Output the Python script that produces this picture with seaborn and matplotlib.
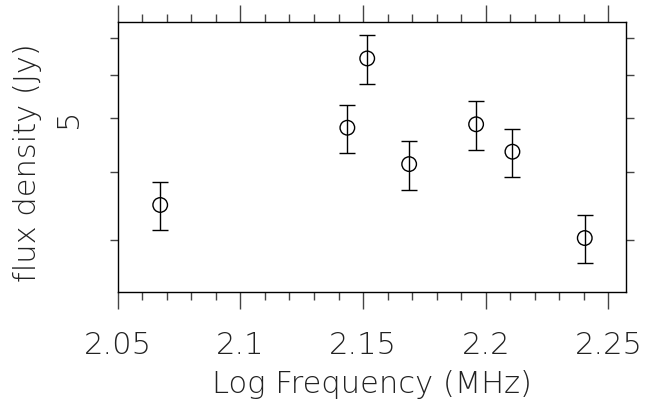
import matplotlib
matplotlib.use("Agg")
import matplotlib.pyplot as plt
from matplotlib.ticker import FixedLocator, MultipleLocator, NullFormatter
import seaborn as sns
import pandas as pd

# Log frequency (MHz) and flux density (Jy) with 1-sigma errors
log_freq = [2.0673, 2.1436, 2.1517, 2.1688, 2.1961, 2.2109, 2.2404]
flux = [3.48, 4.81, 6.43, 4.13, 4.88, 4.35, 3.03]
flux_err = [0.35, 0.48, 0.65, 0.42, 0.50, 0.44, 0.30]

x_ticks = [2.05, 2.1, 2.15, 2.2, 2.25]
x_tick_labels = ["2.05", "2.1", "2.15", "2.2", "2.25"]
y_ticks = [3, 4, 5, 6, 7]
y_tick_labels = ["", "", "5", "", ""]

df = pd.DataFrame({"logf": log_freq, "flux": flux, "err": flux_err})

sns.set_theme(style="ticks")
plt.rcParams["font.family"] = ["DejaVu Sans"]
plt.rcParams["font.weight"] = 200

TEXT = "#222222"
FS = 22

fig = plt.figure(figsize=(6.45, 4.04), dpi=100)
ax = fig.add_axes([0.1826, 0.278, 0.9705 - 0.1826, 0.9455 - 0.278])

ax.errorbar(df["logf"], df["flux"], yerr=df["err"], fmt="none",
            ecolor="black", elinewidth=1.0, capsize=5.8, capthick=1.0)
sns.scatterplot(data=df, x="logf", y="flux", ax=ax, marker="o", s=110,
                facecolor="none", edgecolor="black", linewidth=1.0, zorder=3)

ax.set_yscale("log")
ax.set_xlim(2.05, 2.2572)
ax.set_ylim(2.42, 7.49)

ax.xaxis.set_major_locator(FixedLocator(x_ticks))
ax.set_xticklabels(x_tick_labels, fontweight=200)
ax.xaxis.set_minor_locator(MultipleLocator(0.01))
ax.yaxis.set_major_locator(FixedLocator(y_ticks))
ax.set_yticklabels(y_tick_labels, rotation=90, va="center", fontweight=200)
ax.yaxis.set_minor_formatter(NullFormatter())
ax.yaxis.set_minor_locator(FixedLocator([]))

for side in ["top", "right", "bottom", "left"]:
    ax.spines[side].set_visible(True)
    ax.spines[side].set_linewidth(1.0)
    ax.spines[side].set_color("black")

ax.tick_params(axis="x", which="major", direction="out", length=12, width=1,
               top=True, bottom=True, color="#444444",
               labelsize=FS, labelcolor=TEXT, pad=16)
ax.tick_params(axis="x", which="minor", direction="out", length=6, width=1,
               top=True, bottom=True, color="#444444")
ax.tick_params(axis="y", which="major", direction="out", length=6, width=1,
               left=True, right=True, color="#444444",
               labelsize=FS, labelcolor=TEXT, pad=19)

ax.set_xlabel("Log Frequency (MHz)", fontsize=FS, color=TEXT, fontweight=200)
ax.set_ylabel("flux density (Jy)", fontsize=FS, color=TEXT, fontweight=200)
ax.xaxis.set_label_coords(0.5, -0.29, transform=ax.transAxes)
ax.yaxis.set_label_coords(-0.15, 0.48, transform=ax.transAxes)

fig.savefig("out.png", dpi=100)
